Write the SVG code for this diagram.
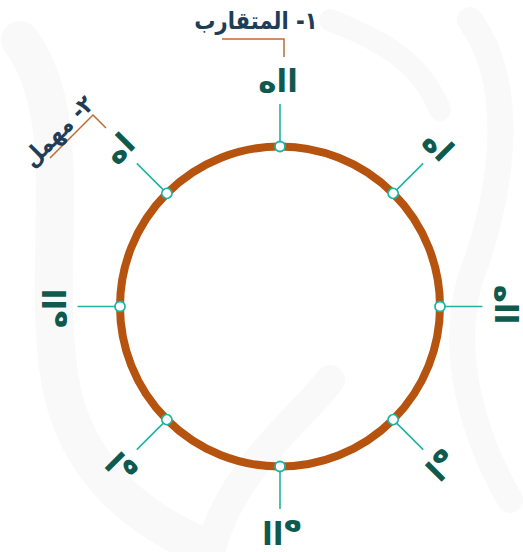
<svg xmlns="http://www.w3.org/2000/svg" width="523" height="552" viewBox="0 0 523 552">
<style>
.ring{fill:none;stroke:#b5530f;stroke-width:8}
.tick{stroke:#1fb3a5;stroke-width:1.6}
.node{fill:#fff;stroke:#1fb3a5;stroke-width:1.8}
.lbl{font-family:"DejaVu Sans",sans-serif;font-weight:bold;font-size:31px;fill:#0f5a4f;text-anchor:middle}
.ttl{font-family:"DejaVu Sans",sans-serif;font-weight:bold;font-size:24px;fill:#1e3d58;text-anchor:middle;dominant-baseline:central}
.lead{fill:none;stroke:#c06a35;stroke-width:1.5}
.wm{fill:none;stroke:#f9f9f9;stroke-linecap:round}
</style>
<rect width="523" height="552" fill="#fff"/>
<g id="watermark">
<path class="wm" stroke-width="38" d="M20,40 C80,120 40,260 60,380 C75,470 140,520 200,545"/>
<path class="wm" stroke-width="30" d="M210,552 C230,470 300,420 330,380"/>
<path class="wm" stroke-width="26" d="M470,20 C520,90 500,200 470,280 C450,350 470,430 510,500"/>
<path class="wm" stroke-width="22" d="M330,20 C380,40 420,60 440,110"/>
</g>
<g id="connectors">
<circle class="ring" cx="280" cy="306.5" r="160"/>
<g transform="rotate(0 280 306.5)"><line class="tick" x1="280" y1="146.5" x2="280" y2="104"/></g>
<g transform="rotate(45 280 306.5)"><line class="tick" x1="280" y1="146.5" x2="280" y2="104"/></g>
<g transform="rotate(90 280 306.5)"><line class="tick" x1="280" y1="146.5" x2="280" y2="104"/></g>
<g transform="rotate(135 280 306.5)"><line class="tick" x1="280" y1="146.5" x2="280" y2="104"/></g>
<g transform="rotate(180 280 306.5)"><line class="tick" x1="280" y1="146.5" x2="280" y2="104"/></g>
<g transform="rotate(225 280 306.5)"><line class="tick" x1="280" y1="146.5" x2="280" y2="104"/></g>
<g transform="rotate(270 280 306.5)"><line class="tick" x1="280" y1="146.5" x2="280" y2="104"/></g>
<g transform="rotate(315 280 306.5)"><line class="tick" x1="280" y1="146.5" x2="280" y2="104"/></g>
<polyline class="lead" points="222,39 284,39 284,57"/>
<polyline class="lead" points="50,158 93,115 106,128"/>
</g>
<g id="n0" transform="rotate(0 280 306.5)"><circle class="node" cx="280" cy="146.5" r="5"/><text class="lbl" x="278" y="92">ااه</text></g>
<g id="n1" transform="rotate(45 280 306.5)"><circle class="node" cx="280" cy="146.5" r="5"/><text class="lbl" x="278" y="92">اه</text></g>
<g id="n2" transform="rotate(90 280 306.5)"><circle class="node" cx="280" cy="146.5" r="5"/><text class="lbl" x="278" y="92">ااه</text></g>
<g id="n3" transform="rotate(135 280 306.5)"><circle class="node" cx="280" cy="146.5" r="5"/><text class="lbl" x="278" y="92">اه</text></g>
<g id="n4" transform="rotate(180 280 306.5)"><circle class="node" cx="280" cy="146.5" r="5"/><text class="lbl" x="278" y="92">ااه</text></g>
<g id="n5" transform="rotate(225 280 306.5)"><circle class="node" cx="280" cy="146.5" r="5"/><text class="lbl" x="278" y="92">اه</text></g>
<g id="n6" transform="rotate(270 280 306.5)"><circle class="node" cx="280" cy="146.5" r="5"/><text class="lbl" x="278" y="92">ااه</text></g>
<g id="n7" transform="rotate(315 280 306.5)"><circle class="node" cx="280" cy="146.5" r="5"/><text class="lbl" x="278" y="92">اه</text></g>
<g id="t1"><text class="ttl" transform="translate(256 21) scale(0.88 1)">١- المتقارب</text></g>
<g id="t2"><text class="ttl" transform="rotate(-45 58 131) translate(58 131) scale(0.88 1)">٢- مهمل</text></g>
</svg>
